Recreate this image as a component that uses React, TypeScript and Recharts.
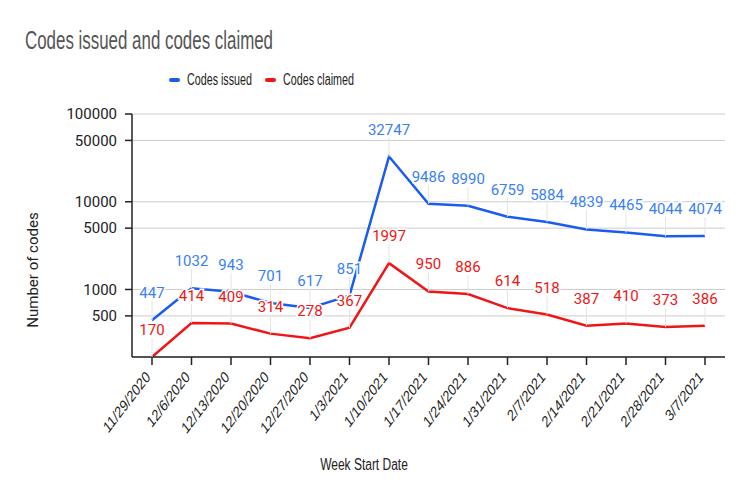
import React from "react";
import {
	CartesianGrid,
	LabelList,
	Line,
	LineChart,
	XAxis,
	YAxis,
} from "recharts";

const weeks = [
	"11/29/2020",
	"12/6/2020",
	"12/13/2020",
	"12/20/2020",
	"12/27/2020",
	"1/3/2021",
	"1/10/2021",
	"1/17/2021",
	"1/24/2021",
	"1/31/2021",
	"2/7/2021",
	"2/14/2021",
	"2/21/2021",
	"2/28/2021",
	"3/7/2021",
];
const issued = [
	447, 1032, 943, 701, 617, 851, 32747, 9486, 8990, 6759, 5884, 4839, 4465,
	4044, 4074,
];
const claimed = [
	170, 414, 409, 314, 278, 367, 1997, 950, 886, 614, 518, 387, 410, 373, 386,
];
const yTicks = [500, 1000, 5000, 10000, 50000, 100000];

const BLUE = "#1a5cf0";
const RED = "#ee1616";
const SANS = "'Liberation Sans', Arial, sans-serif";

const data = weeks.map((week, i) => ({
	week,
	issued: issued[i],
	claimed: claimed[i],
}));

const makeLabel =
	(color: string) =>
	// biome-ignore lint/suspicious/noExplicitAny: recharts label props
	(props: any) => {
		const { x, y, value } = props;
		return (
			<g>
				<line x1={x} x2={x} y1={y - 19} y2={y} stroke="#e4e4e4" strokeWidth={1} />
				<text
					x={x}
					y={y - 22}
					textAnchor="middle"
					fontFamily="Roboto, sans-serif"
					fontSize={15}
					fill={color}
					stroke="#fff"
					strokeWidth={3}
					paintOrder="stroke"
				>
					{value}
				</text>
			</g>
		);
	};

// biome-ignore lint/suspicious/noExplicitAny: recharts tick props
const XTick = (props: any) => {
	const { x, y, payload } = props;
	return (
		<g transform={`translate(${x - 4},${y + 7}) scale(0.77,1) rotate(-45)`}>
			<text
				x={0}
				y={0}
				dy="0.35em"
				textAnchor="end"
				fontFamily={SANS}
				fontSize={16}
				fill="#222"
			>
				{payload.value}
			</text>
		</g>
	);
};

const narrow = (scale: number): React.CSSProperties => ({
	display: "inline-block",
	transform: `scaleX(${scale})`,
	transformOrigin: "left center",
	whiteSpace: "nowrap",
});

const legendItem = (color: string, text: string, left: number) => (
	<div
		style={{
			position: "absolute",
			left,
			top: 71,
			display: "flex",
			alignItems: "center",
			fontFamily: SANS,
			fontSize: 16,
			color: "#222",
			whiteSpace: "nowrap",
		}}
	>
		<span
			style={{
				display: "inline-block",
				width: 11,
				height: 4,
				borderRadius: 2,
				background: color,
				marginRight: 7,
			}}
		/>
		<span style={narrow(0.67)}>{text}</span>
	</div>
);

export default function App() {
	return (
		<div
			style={{
				position: "absolute",
				left: 0,
				top: 0,
				width: 750,
				height: 499,
				background: "#fff",
			}}
		>
			<div
				style={{
					position: "absolute",
					left: 25,
					top: 25,
					fontFamily: SANS,
					fontSize: 26,
					color: "#555",
				}}
			>
				<span style={narrow(0.65)}>Codes issued and codes claimed</span>
			</div>
			{legendItem(BLUE, "Codes issued", 169)}
			{legendItem(RED, "Codes claimed", 265)}
			<LineChart
				width={750}
				height={499}
				data={data}
				margin={{ top: 114, right: 25, left: 0, bottom: 0 }}
			>
				<CartesianGrid vertical={false} stroke="#cccccc" />
				<XAxis
					dataKey="week"
					height={142}
					padding={{ left: 20, right: 20 }}
					tickSize={8}
					tick={<XTick />}
					stroke="#222"
					strokeWidth={1.5}
					interval={0}
					label={() => (
						<text
							transform="translate(364,470) scale(0.75,1)"
							textAnchor="middle"
							fontFamily={SANS}
							fontSize={16}
							fill="#222"
						>
							Week Start Date
						</text>
					)}
				/>
				<YAxis
					scale="log"
					domain={[170, 100000]}
					allowDataOverflow
					ticks={yTicks}
					width={132}
					tickSize={7}
					tickMargin={8}
					stroke="#222"
					strokeWidth={1.5}
					tick={{ fontFamily: "Roboto, sans-serif", fontSize: 15, fill: "#222" }}
					label={() => (
						<text
							transform="translate(38,270) rotate(-90)"
							textAnchor="middle"
							fontFamily="Roboto, sans-serif"
							fontSize={15}
							fill="#222"
						>
							Number of codes
						</text>
					)}
				/>
				<Line
					dataKey="issued"
					stroke={BLUE}
					strokeWidth={2.5}
					dot={false}
					isAnimationActive={false}
				>
					<LabelList dataKey="issued" content={makeLabel("#3b7ff5")} />
				</Line>
				<Line
					dataKey="claimed"
					stroke={RED}
					strokeWidth={2.5}
					dot={false}
					isAnimationActive={false}
				>
					<LabelList dataKey="claimed" content={makeLabel(RED)} />
				</Line>
			</LineChart>
		</div>
	);
}
